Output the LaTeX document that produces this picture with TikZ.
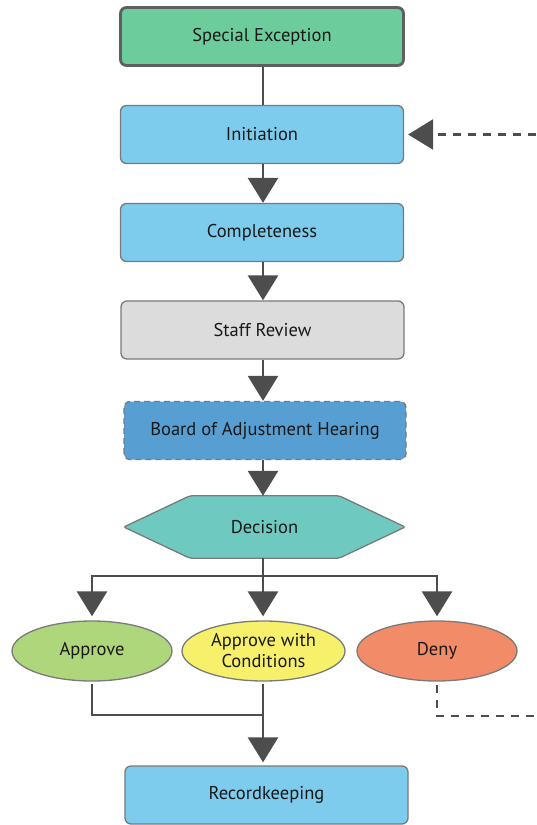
\documentclass[tikz,border=0pt]{standalone}
\usepackage{fontspec}
\setmainfont{PT Sans}
\usetikzlibrary{arrows.meta,shapes.geometric,calc}
\definecolor{lnc}{HTML}{4D4D4D}
\definecolor{bdc}{HTML}{7A7A7A}
\definecolor{segreen}{HTML}{6DCC9B}
\definecolor{ltblue}{HTML}{7DCBED}
\definecolor{ltgray}{HTML}{DCDCDC}
\definecolor{medblue}{HTML}{579FD3}
\definecolor{teal}{HTML}{6ECAC0}
\definecolor{apgreen}{HTML}{AED67A}
\definecolor{awyellow}{HTML}{F7F06A}
\definecolor{denyred}{HTML}{F28B68}
\tikzset{
  lbl/.style={font=\fontsize{18.5}{21}\selectfont, text=black!90},
  boxnode/.style={rectangle, rounded corners=6pt, draw=bdc, line width=1.3pt,
    minimum width=283pt, minimum height=58pt, inner sep=0pt, lbl},
  ovalnode/.style={ellipse, draw=bdc, line width=1.3pt, minimum width=160pt, minimum height=60pt,
    inner sep=0pt, align=center, lbl},
  conn/.style={draw=lnc, line width=2.8pt},
  arr/.style={conn, -{Triangle[width=30pt,length=25pt]}},
  dline/.style={draw=lnc, line width=2.5pt, dash pattern=on 8pt off 7pt},
}
\begin{document}
\begin{tikzpicture}[x=1pt,y=-1pt]
\useasboundingbox (0,0) rectangle (536,825);
\node[boxnode, fill=segreen, draw=lnc!90, line width=2.8pt] (se) at (262,36.5) {Special Exception};
\node[boxnode, fill=ltblue] (init) at (262,134.5) {Initiation};
\node[boxnode, fill=ltblue] (comp) at (262,232.5) {Completeness};
\node[boxnode, fill=ltgray] (staff) at (262.5,330) {Staff Review};
\node[boxnode, fill=medblue, dashed, dash pattern=on 6pt off 4pt, minimum width=282pt] (board) at (265,430.5) {Board of Adjustment Hearing};
\node[minimum width=281pt, minimum height=62pt, inner sep=0pt] (dec) at (264.5,527) {};
\draw[draw=bdc, line width=1.3pt, fill=teal, rounded corners=2pt]
  (dec.west) -- ($(dec.north west)+(66,0)$) -- ($(dec.north east)+(-66,0)$) -- (dec.east)
  -- ($(dec.south east)+(-66,0)$) -- ($(dec.south west)+(66,0)$) -- cycle;
\node[lbl] at (dec.center) {Decision};
\node[ovalnode, fill=apgreen] (app) at (92,651) {Approve};
\node[ovalnode, fill=awyellow, minimum width=163pt] (awc) at (263.5,651) {Approve with\\Conditions};
\node[ovalnode, fill=denyred] (deny) at (437,651) {Deny};
\node[boxnode, fill=ltblue] (rec) at (266.5,795) {Recordkeeping};
\coordinate (fork) at (263,576);
\coordinate (join) at (263,715);
\coordinate (initin) at (536,134.5);
\coordinate (denyout) at (536,716);
% connectors
\draw[conn] (se.south -| fork) -- (fork |- init.north);
\draw[arr] (init.south -| fork) -- (fork |- comp.north);
\draw[arr] (comp.south -| fork) -- (fork |- staff.north);
\draw[arr] (staff.south -| fork) -- (fork |- board.north);
\draw[arr] (board.south -| fork) -- (fork |- dec.north);
\draw[arr, shorten >=4pt] (dec.south -| fork) -- (fork |- awc.north);
\draw[arr, shorten >=4pt] (fork) -| (app.north);
\draw[arr, shorten >=4pt] (fork) -| (deny.north);
\draw[conn, shorten <=2pt] (app.south) |- (join);
\draw[arr, shorten <=2pt, shorten >=3pt] (awc.south -| join) -- (join |- rec.north);
\draw[dline, shorten <=3pt] (deny.south) |- (denyout);
\draw[dline, -{Triangle[width=30pt,length=25pt]}, shorten >=4pt] (initin) -- (init.east);
\end{tikzpicture}
\end{document}
